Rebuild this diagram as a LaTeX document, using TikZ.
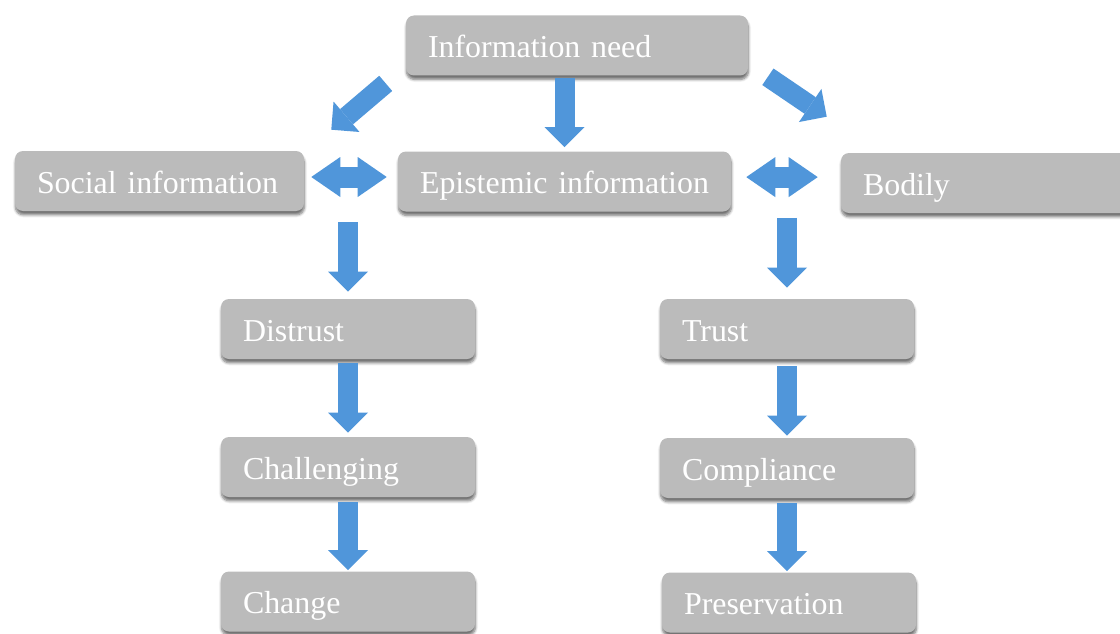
\documentclass[tikz,border=0pt]{standalone}
\usepackage{fontspec}
\setmainfont{Liberation Serif}
\usepackage{xcolor}
\usepackage{tikz}
\usetikzlibrary{positioning,calc,arrows.meta,shadows.blur}
\definecolor{boxgray}{RGB}{187,187,187}
\definecolor{arrowblue}{RGB}{80,150,218}

\begin{document}
\begin{tikzpicture}[
  font=\fontsize{22.7}{27}\selectfont,
  stage/.style={rectangle, fill=boxgray, rounded corners=0.2cm, text=white,
    minimum height=1.5cm, inner xsep=0.55cm, align=left, text height=0.7cm, text depth=0.1cm,
    blur shadow={shadow xshift=0.3pt, shadow yshift=-2.8pt, shadow blur steps=6, shadow opacity=55}},
  flow/.style={draw=arrowblue, line width=0.5cm,
    -{Triangle[width=1cm, length=0.5cm, line width=0pt]}},
  swap/.style={draw=arrowblue, line width=0.525cm,
    {Triangle[width=1cm, length=0.725cm, line width=0pt]}-{Triangle[width=1cm, length=0.725cm, line width=0pt]}}
]
\useasboundingbox (0,0) rectangle (28,-15.85);

% Top: the need and the three kinds of information
\node[stage, text width=7.45cm] (need) at (14.425,-1.1375) {Information need};
\node[stage, text width=6.125cm] (social) at (3.9875,-4.525) {Social information};
\node[stage, text width=7.225cm] (epistemic) at (14.1125,-4.5375) {Epistemic information};
\node[stage, text width=6.125cm] (bodily) at (24.6375,-4.575) {Bodily};

% Left branch
\node[stage, text width=5.25cm] (distrust) at (8.7,-8.225) {Distrust};
\node[stage, text width=5.25cm] (challenging) at (8.7,-11.675) {Challenging};
\node[stage, text width=5.25cm] (change) at (8.7,-15.0375) {Change};

% Right branch
\node[stage, text width=5.25cm] (trust) at (19.675,-8.225) {Trust};
\node[stage, text width=5.25cm] (compliance) at (19.675,-11.7) {Compliance};
\node[stage, text width=5.25cm] (preservation) at (19.725,-15.0625) {Preservation};

% Arrows out of the need
\draw[flow, shorten <=0.05cm, shorten >=0.1cm] (need.south -| epistemic.north) -- (epistemic.north);
\draw[flow] ($(need.south west)+(-0.5,-0.19)$) -- ($(social.north east)+(0.675,0.525)$);
\draw[flow] ($(need.south east)+(0.49,-0.025)$) -- ($(bodily.north west)+(-0.35,0.9)$);

% Two-way links on the middle row
\draw[swap, shorten <=0.175cm, shorten >=0.275cm]
  ($(social.east)+(0,0.1)$) -- ($(social.east -| epistemic.west)+(0,0.1)$);
\draw[swap, shorten <=0.375cm, shorten >=0.575cm]
  ($(epistemic.east)+(0,0.11)$) -- ($(epistemic.east -| bodily.west)+(0,0.11)$);

% Down the two branches
\draw[flow, shorten <=0.275cm, shorten >=0.175cm] (social.south -| distrust.north) -- (distrust.north);
\draw[flow, shorten <=0.1cm, shorten >=0.1cm] (distrust) -- (challenging);
\draw[flow, shorten <=0.125cm, shorten >=0.025cm] (challenging) -- (change);
\draw[flow, shorten <=0.15cm, shorten >=0.275cm] (epistemic.south -| trust.north) -- (trust.north);
\draw[flow, shorten <=0.175cm, shorten >=0.05cm] (trust) -- (compliance);
\draw[flow, shorten <=0.125cm, shorten >=0.025cm] (compliance.south) -- (compliance.south |- preservation.north);
\end{tikzpicture}
\end{document}
